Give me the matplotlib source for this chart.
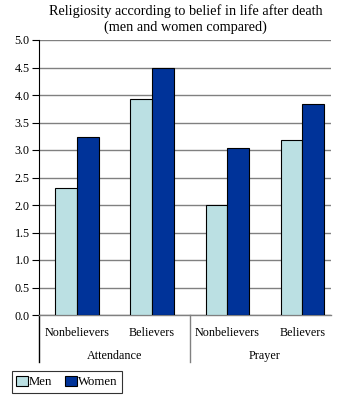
import matplotlib
matplotlib.use("Agg")
import matplotlib.pyplot as plt
import numpy as np
from matplotlib.patches import Patch

plt.rcParams['font.family'] = ['Liberation Serif', 'DejaVu Serif']

# data
groups = ['Attendance', 'Prayer']
categories = ['Nonbelievers', 'Believers', 'Nonbelievers', 'Believers']
men = [2.31, 3.92, 2.00, 3.18]
women = [3.24, 4.50, 3.04, 3.83]
yticks = [0.0, 0.5, 1.0, 1.5, 2.0, 2.5, 3.0, 3.5, 4.0, 4.5, 5.0]

men_color = '#BBE0E3'
women_color = '#003399'

fig = plt.figure(figsize=(3.6, 4.0), dpi=100)
ax = fig.add_axes([0.1097, 0.2125, 0.8097, 0.6875])

x = np.arange(len(categories))
w = 0.29
ax.bar(x - w / 2, men, w, color=men_color, edgecolor='black', linewidth=0.8, zorder=3)
ax.bar(x + w / 2, women, w, color=women_color, edgecolor='black', linewidth=0.8, zorder=3)

ax.set_xlim(-0.5, 3.38)
ax.set_ylim(0, 5.0)
ax.set_yticks(yticks)
ax.set_yticklabels([f'{v:.1f}' for v in yticks], fontsize=8.7)
ax.yaxis.grid(True, color='#808080', linewidth=1.0, zorder=0)
ax.set_axisbelow(True)

for s in ['top', 'right']:
    ax.spines[s].set_visible(False)
ax.spines['bottom'].set_color('#808080')
ax.spines['bottom'].set_linewidth(1.0)
ax.spines['left'].set_color('black')
ax.spines['left'].set_linewidth(0.8)
ax.tick_params(axis='y', length=5, width=0.8, pad=2)

ax.set_xticks(x)
ax.set_xticklabels(categories, fontsize=8.7)
ax.tick_params(axis='x', length=0, pad=9)

# group labels and separators below the axis
trans = ax.get_xaxis_transform()
for i, g in enumerate(groups):
    ax.text(2 * i + 0.5, -0.148, g, transform=trans, ha='center', va='center', fontsize=8.7)
for xs in [-0.5, 1.5]:
    ax.plot([xs, xs], [0, -0.17], transform=trans, color='#808080' if xs > 0 else 'black',
            linewidth=1.0, clip_on=False)

fig.suptitle('Religiosity according to belief in life after death\n(men and women compared)',
             x=0.515, y=0.99, fontsize=10.3, linespacing=1.3)

handles = [Patch(facecolor=men_color, edgecolor='black', linewidth=0.8),
           Patch(facecolor=women_color, edgecolor='black', linewidth=0.8)]
leg = fig.legend(handles, ['Men', 'Women'], loc='lower left', bbox_to_anchor=(0.033, 0.018),
                 ncol=2, fontsize=9.2, frameon=True, fancybox=False, edgecolor='black',
                 handlelength=0.9, handleheight=0.9, handletextpad=0.1, columnspacing=1.0,
                 borderpad=0.35, borderaxespad=0)
leg.get_frame().set_linewidth(0.8)

fig.savefig('out.png', dpi=100)
